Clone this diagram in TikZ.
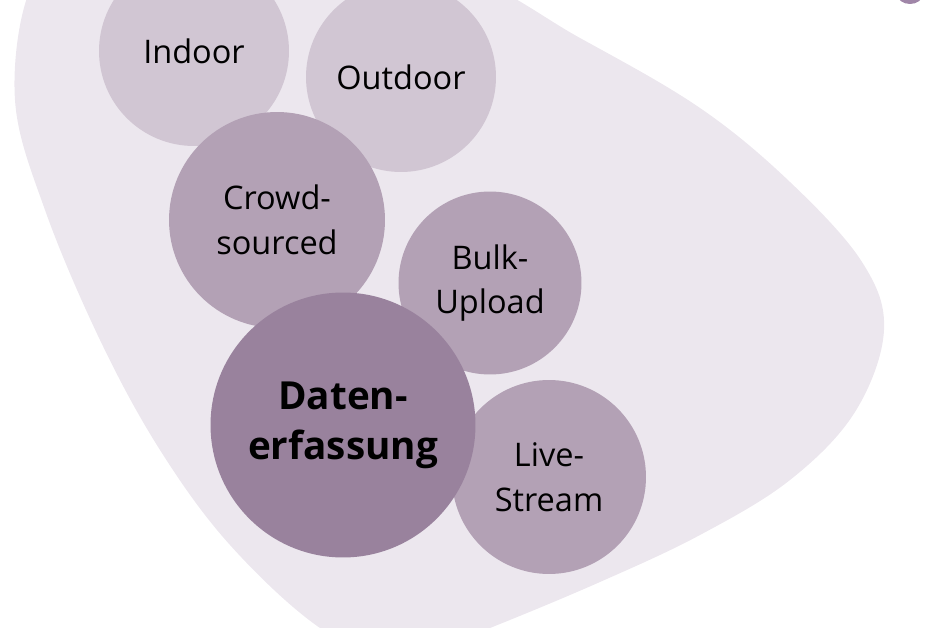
\documentclass[tikz,border=0pt]{standalone}
\usepackage{fontspec}
\setmainfont{Open Sans}
\usetikzlibrary{positioning}

\definecolor{blobfill}{HTML}{ECE7EE}
\definecolor{lightfill}{HTML}{D1C6D3}
\definecolor{midfill}{HTML}{B3A1B5}
\definecolor{corefill}{HTML}{99829D}
\definecolor{titlefill}{HTML}{A086A8}

\tikzset{
	bubble/.style={circle, inner sep=0pt, align=center, text=black,
		font=\fontsize{18.5}{25.5}\selectfont},
	lightbubble/.style={bubble, fill=lightfill},
	midbubble/.style={bubble, fill=midfill},
	corebubble/.style={bubble, fill=corefill,
		font=\fontsize{22}{28.5}\selectfont\bfseries}
}

\begin{document}
\begin{tikzpicture}[x=0.02cm, y=-0.02cm]
		\useasboundingbox (0,0) rectangle (940,628);
		\clip (0,0) rectangle (940,628);

		\fill[blobfill] plot[smooth cycle, tension=0.6] coordinates {
			(30,-10) (15,100) (45,210) (100,340) (160,450) (230,545)
			(320,628) (400,662) (490,628) (600,582) (700,535) (790,480)
			(855,412) (884,330) (862,262) (790,182) (700,108) (580,38)
			(450,-30) (250,-60) (80,-50)};
		\fill[titlefill] (910,-6) ellipse [x radius=13, y radius=10];

		\node[lightbubble, minimum size=3.8cm] (indoor) at (194,51) {Indoor};
		\node[lightbubble, minimum size=3.8cm] (outdoor) at (401,77) {Outdoor};
		\node[midbubble, minimum size=4.32cm] (crowd) at (277,220) {Crowd-\\sourced};
		\node[midbubble, minimum size=3.66cm] (bulk) at (490,283) {Bulk-\\Upload};
		\node[midbubble, minimum size=3.88cm] (live) at (549,477) {Live-\\Stream};
		\node[corebubble, minimum size=5.3cm] (daten) at (343,425) {Daten-\\erfassung};
	\end{tikzpicture}
\end{document}
